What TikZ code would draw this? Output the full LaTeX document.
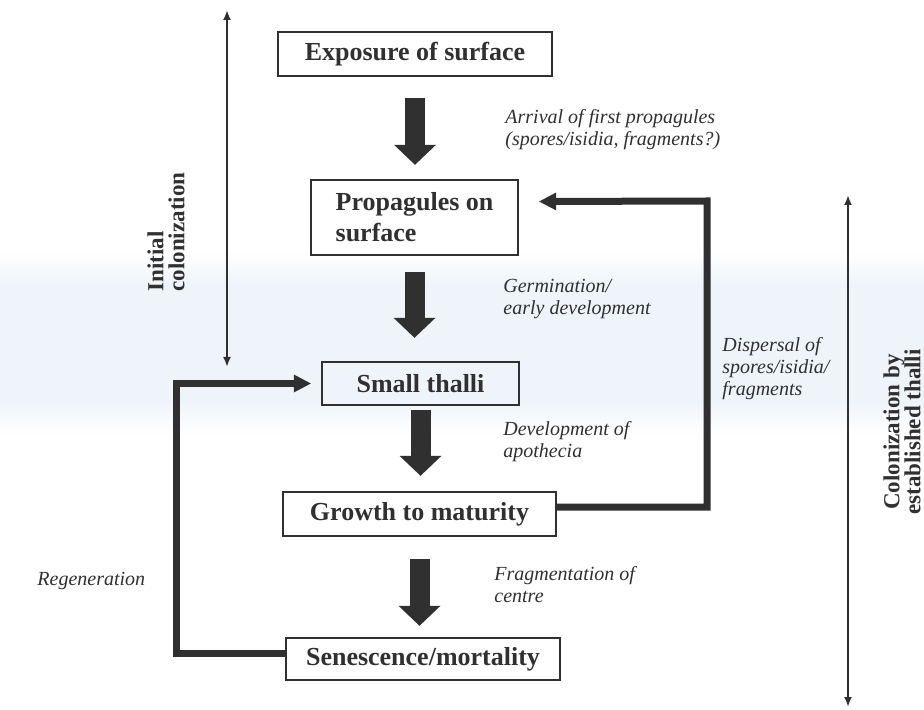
\documentclass[tikz,border=0pt]{standalone}
\usepackage{fontspec}
\setmainfont{Liberation Serif}
\usetikzlibrary{arrows.meta}
\usetikzlibrary{positioning}
\definecolor{ink}{HTML}{303030}
\definecolor{band}{HTML}{EEF4FA}

\begin{document}
\begin{tikzpicture}[
	x=0.5pt, y=-0.5pt,
	every node/.style={text=ink},
	box/.style = {draw=ink, line width=1.2pt, inner sep=0pt, font=\fontsize{13}{15.5}\selectfont\bfseries},
	big arrow/.style = {draw=ink, line width=10pt, -{Triangle[width=21pt,length=10pt,line width=0pt]}},
	back arrow/.style = {draw=ink, line width=3.5pt, -{Triangle[width=9pt,length=8.5pt,line width=0pt]}},
	span arrow/.style = {draw=ink, line width=1pt, {Latex[length=5pt,width=4pt]}-{Latex[length=5pt,width=4pt]}},
	remark/.style = {inner sep=0pt, align=left, font=\fontsize{10}{11}\selectfont\itshape},
	side label/.style = {rotate=90, inner sep=0pt, font=\fontsize{11.5}{10.5}\selectfont\bfseries}
	]
	\fill[white] (0,0) rectangle (924,710);
	\useasboundingbox (0,0) rectangle (924,710);
	% faint tinted band of the scan
	\shade[top color=white, bottom color=band] (0,250) rectangle (924,285);
	\fill[band] (0,284) rectangle (924,401);
	\shade[top color=band, bottom color=white] (0,400) rectangle (924,435);

	% stages
	\node[box, minimum width=137pt, minimum height=22pt] (expo) at (415,54) {Exposure of surface};
	\node[box, minimum width=103.5pt, minimum height=37.5pt, align=left] (prop) at (414.5,217.5) {Propagules on\\surface};
	\node[box, minimum width=98.5pt, minimum height=21.5pt] (small) at (420.5,383.5) {Small thalli};
	\node[box, minimum width=136.5pt, minimum height=22pt] (growth) at (419.5,514) {Growth to maturity};
	\node[box, minimum width=137pt, minimum height=21pt] (senes) at (423,659) {Senescence/mortality};

	\draw[big arrow, shorten <=10.5pt, shorten >=7pt] (expo.south) -- (expo.south |- prop.north);
	\draw[big arrow, shorten <=8pt, shorten >=11.5pt] (prop.south) -- (prop.south |- small.north);
	\draw[big arrow, shorten <=2pt, shorten >=7.5pt] (small.south) -- (small.south |- growth.north);
	\draw[big arrow, shorten <=11pt, shorten >=5.5pt] (growth.south) -- (growth.south |- senes.north);

	\node[remark, anchor=west] (arrival) at (505,129.5) {Arrival of first propagules\\(spores/isidia, fragments?)};
	\node[remark, anchor=west] (germ) at (503,299) {Germination/\\early development};
	\node[remark, anchor=west] (apoth) at (503,442) {Development of\\apothecia};
	\node[remark, anchor=west] (frag) at (494,585) {Fragmentation of\\centre};
	\node[remark, anchor=west] (disp) at (722,369) {Dispersal of\\spores/isidia/\\fragments};
	\node[remark, anchor=west] (regen) at (37,581) {Regeneration};

	% return loops
	\coordinate (dispC) at (707,201);
	\coordinate (regenC) at (176,383.5);
	\draw[back arrow] ([yshift=3.5pt]growth.east) -| (dispC) -- ([xshift=10pt,yshift=8pt]prop.east);
	\draw[back arrow] ([yshift=3pt]senes.west) -| (regenC) -- ([xshift=-5pt]small.west);

	% phases
	\coordinate (initTop) at (227,10);
	\coordinate (initBot) at (227,367);
	\coordinate (estTop) at (848,195);
	\coordinate (estBot) at (848,707);
	\draw[span arrow] (initBot) -- (initTop);
	\draw[span arrow] (estBot) -- (estTop);
	\node[side label, align=left] (initial) at (166,232) {Initial\\colonization};
	\node[side label, align=center] (established) at (902,432) {Colonization by\\established thalli};

\end{tikzpicture}
\end{document}
